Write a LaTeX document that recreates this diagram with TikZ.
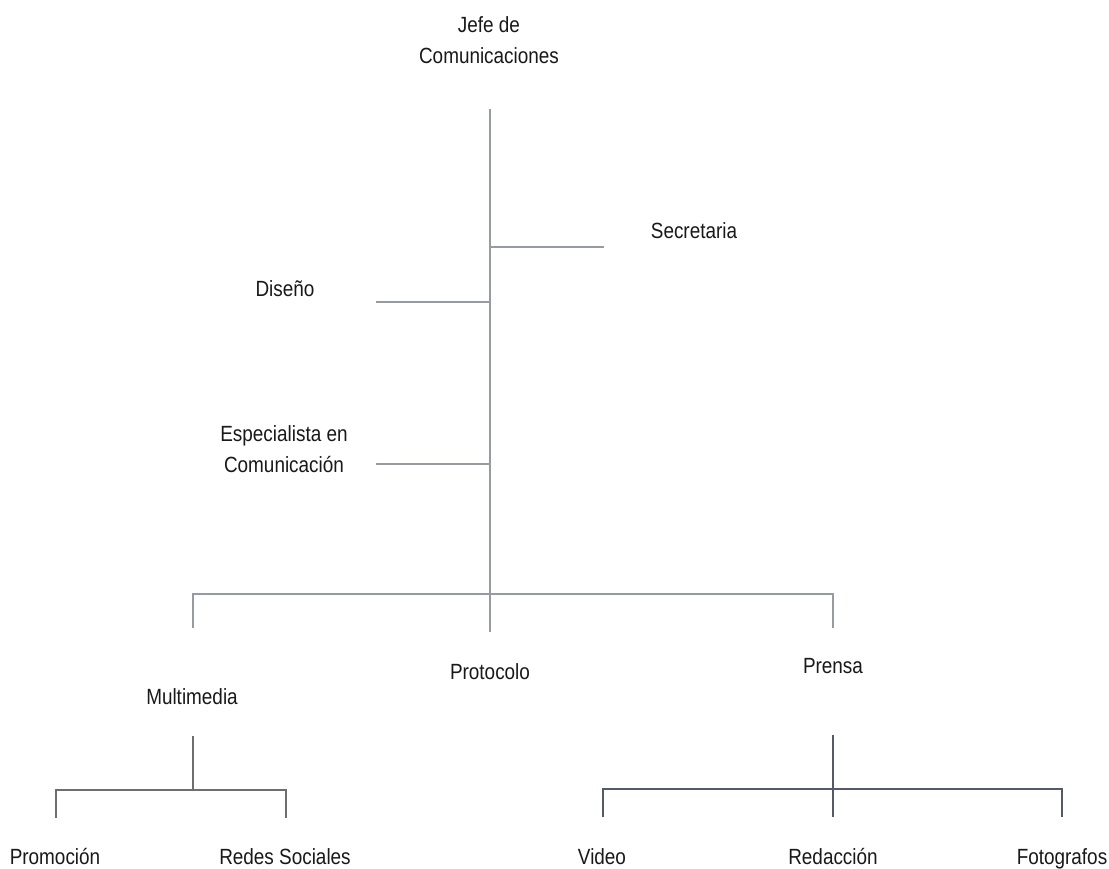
\documentclass[tikz,border=0pt]{standalone}
\usepackage{fontspec}
\setmainfont{Liberation Sans}[FakeStretch=0.86]
\definecolor{maingray}{RGB}{150,154,162}
\definecolor{subgray}{RGB}{110,110,112}
\definecolor{pressgray}{RGB}{85,90,105}
\begin{document}
\begin{tikzpicture}[x=1pt,y=-1pt,
  lbl/.style={anchor=base,inner sep=0pt,font=\fontsize{22}{31}\selectfont,text=black!90},
  mainline/.style={draw=maingray,line width=2pt},
  subline/.style={draw=subgray,line width=1.1pt},
  pressline/.style={draw=pressgray,line width=1.1pt}]
\useasboundingbox (0,0) rectangle (1109,868);
\fill[white] (0,0) rectangle (1109,868);
% labels
\node[lbl] (jefe1) at (489,32) {Jefe de};
\node[lbl] (jefe) at (489,63) {Comunicaciones};
\node[lbl] (secr) at (694,238) {Secretaria};
\node[lbl] (dise) at (285,296) {Diseño};
\node[lbl] (esp1) at (284,441) {Especialista en};
\node[lbl] (esp) at (284,472) {Comunicación};
\node[lbl] (prot) at (490,679) {Protocolo};
\node[lbl] (pren) at (833,673) {Prensa};
\node[lbl] (mult) at (192,704) {Multimedia};
\node[lbl] (prom) at (55,864) {Promoción};
\node[lbl] (rede) at (285,864) {Redes Sociales};
\node[lbl] (vide) at (602,864) {Video};
\node[lbl] (reda) at (833,864) {Redacción};
\node[lbl] (foto) at (1062,864) {Fotografos};
% junction coordinates
\coordinate (top) at (490,109);
\coordinate (jsec) at (490,247);
\coordinate (esec) at (604,247);
\coordinate (jdis) at (490,302);
\coordinate (edis) at (376,302);
\coordinate (jesp) at (490,464);
\coordinate (eesp) at (376,464);
\coordinate (bot) at (490,632);
\coordinate (bl) at (193,594);
\coordinate (bld) at (193,628);
\coordinate (br) at (833,594);
\coordinate (brd) at (833,628);
% main tree
\draw[mainline] (top) -- (bot);
\draw[mainline] (jsec) -- (esec);
\draw[mainline] (edis) -- (jdis);
\draw[mainline] (eesp) -- (jesp);
\draw[mainline] (bld) -- (bl) -- (br) -- (brd);
% Multimedia group
\coordinate (mtop) at (193,736);
\coordinate (mj) at (193,790);
\coordinate (ml) at (56,790);
\coordinate (mld) at (56,818);
\coordinate (mr) at (286,790);
\coordinate (mrd) at (286,818);
\draw[subline] (mtop) -- (mj);
\draw[subline] (mld) -- (ml) -- (mr) -- (mrd);
% Prensa group
\coordinate (ptop) at (833,735);
\coordinate (pbot) at (833,817);
\coordinate (pl) at (603,789);
\coordinate (pld) at (603,817);
\coordinate (pr) at (1062,789);
\coordinate (prd) at (1062,817);
\draw[pressline] (ptop) -- (pbot);
\draw[pressline] (pld) -- (pl) -- (pr) -- (prd);
\end{tikzpicture}
\end{document}
